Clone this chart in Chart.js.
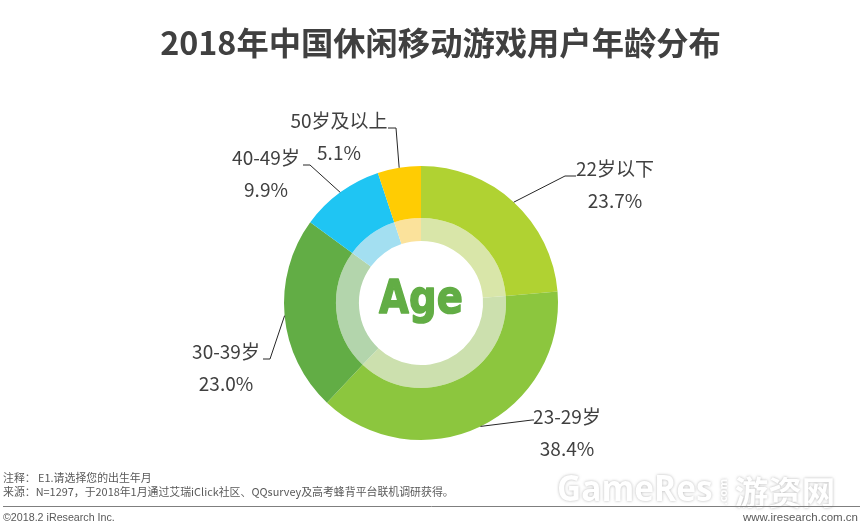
<!DOCTYPE html>
<html>
<head>
<meta charset="utf-8">
<style>
  html, body { margin: 0; padding: 0; background: #fff; }
  #wrap { width: 864px; height: 527px; }
</style>
<script src="https://cdn.jsdelivr.net/npm/chart.js@4"></script>
</head>
<body>
<div id="wrap"><canvas id="ageChart" width="864" height="527"></canvas></div>
<script>
const categories = ['22岁以下', '23-29岁', '30-39岁', '40-49岁', '50岁及以上'];
const shares = [23.7, 38.4, 23.0, 9.9, 5.1];
const outerColors = ['#B0D232', '#8CC63E', '#62AD45', '#1FC5F3', '#FFCC03'];
const innerColors = ['#D9E6A9', '#CCE0AE', '#B3D5AC', '#A3DFF1', '#FBE29B'];

const titleText = '2018年中国休闲移动游戏用户年龄分布';
const centerText = 'Age';
const noteLines = ['注释： E1.请选择您的出生年月', '来源：N=1297，于2018年1月通过艾瑞iClick社区、QQsurvey及高考蜂背平台联机调研获得。'];
const copyrightText = '©2018.2 iResearch Inc.';
const siteText = 'www.iresearch.com.cn';
const markText = 'GameRes';
const markSmall = '.com';
const markCn = '游资网';

const CJK = '"Noto Sans CJK SC", "Noto Sans", sans-serif';

// label placement: text centre, and the leader's knee and end
const labelPos = [
    { x: 615, y: 169, knee: [565, 176], end: [576, 176] },
    { x: 567, y: 417, knee: [532, 420], end: [534, 420] },
    { x: 226, y: 352, knee: [270, 359], end: [263, 359] },
    { x: 266, y: 158, knee: [310, 165], end: [303, 165] },
    { x: 339, y: 121, knee: [396, 128], end: [388, 128] }
];

const text = (ctx, str, x, y, font, color, align) => {
    ctx.font = font;
    ctx.fillStyle = color;
    ctx.textAlign = align || 'center';
    ctx.textBaseline = 'middle';
    ctx.fillText(str, x, y);
};

const decorations = {
    id: 'decorations',
    afterDraw(chart) {
        const ctx = chart.ctx;
        ctx.save();

        // title
        text(ctx, titleText, 440.5, 43, 'bold 32.3px ' + CJK, '#404040');

        // leader lines + labels
        const arcs = chart.getDatasetMeta(0).data;
        arcs.forEach((arc, i) => {
            const mid = (arc.startAngle + arc.endAngle) / 2;
            const p = labelPos[i];
            ctx.beginPath();
            ctx.moveTo(arc.x + Math.cos(mid) * arc.outerRadius, arc.y + Math.sin(mid) * arc.outerRadius);
            ctx.lineTo(p.knee[0], p.knee[1]);
            ctx.lineTo(p.end[0], p.end[1]);
            ctx.strokeStyle = '#262626';
            ctx.lineWidth = 1;
            ctx.stroke();
            text(ctx, categories[i], p.x, p.y, '19px ' + CJK, '#404040');
            text(ctx, shares[i].toFixed(1) + '%', p.x, p.y + 32, '19px ' + CJK, '#404040');
        });

        // centre word, squeezed to the chunky look of the original
        ctx.save();
        ctx.translate(arcs[0].x, 313);
        ctx.scale(0.84, 1);
        ctx.font = 'bold 46px "DejaVu Sans"';
        ctx.textAlign = 'center';
        ctx.textBaseline = 'alphabetic';
        ctx.fillStyle = '#62AD45';
        ctx.strokeStyle = '#62AD45';
        ctx.lineWidth = 1.5;
        ctx.lineJoin = 'round';
        ctx.strokeText(centerText, 0, 0);
        ctx.fillText(centerText, 0, 0);
        ctx.restore();

        // notes
        text(ctx, noteLines[0], 3, 478, '10.9px ' + CJK, '#595959', 'left');
        text(ctx, noteLines[1], 3, 492, '10.9px ' + CJK, '#595959', 'left');

        // watermark, white with a soft grey edge
        ctx.save();
        ctx.shadowColor = 'rgba(120,120,120,0.55)';
        ctx.shadowBlur = 3;
        text(ctx, markCn, 785, 492, 'bold 33.5px ' + CJK, '#FFFFFF');
        ctx.save();
        ctx.translate(557, 491);
        ctx.scale(0.93, 1);
        text(ctx, markText, 0, 0, 'bold 36px "Open Sans"', '#FFFFFF', 'left');
        ctx.restore();
        ctx.translate(724, 492);
        ctx.rotate(-Math.PI / 2);
        text(ctx, markSmall, 0, 0, 'bold 11px "Open Sans"', '#FFFFFF');
        ctx.restore();

        // footer rule + text
        ctx.beginPath();
        ctx.moveTo(3, 506.5);
        ctx.lineTo(860, 506.5);
        ctx.strokeStyle = '#7F7F7F';
        ctx.lineWidth = 1;
        ctx.stroke();
        text(ctx, copyrightText, 3, 518, '10.7px "Liberation Sans"', '#595959', 'left');
        text(ctx, siteText, 858, 518, '11.5px "Liberation Sans"', '#595959', 'right');

        ctx.restore();
    }
};

new Chart(document.getElementById('ageChart'), {
    type: 'doughnut',
    data: {
        labels: categories,
        datasets: [
            { data: shares, backgroundColor: outerColors, borderWidth: 0, weight: 52 },
            { data: shares, backgroundColor: innerColors, borderWidth: 0, weight: 23 }
        ]
    },
    options: {
        responsive: false,
        animation: false,
        cutout: '45.3%',
        layout: { padding: { left: 284, right: 306, top: 166, bottom: 87 } },
        plugins: {
            legend: { display: false },
            title: { display: false },
            tooltip: { enabled: false }
        }
    },
    plugins: [decorations]
});
</script>
</body>
</html>
